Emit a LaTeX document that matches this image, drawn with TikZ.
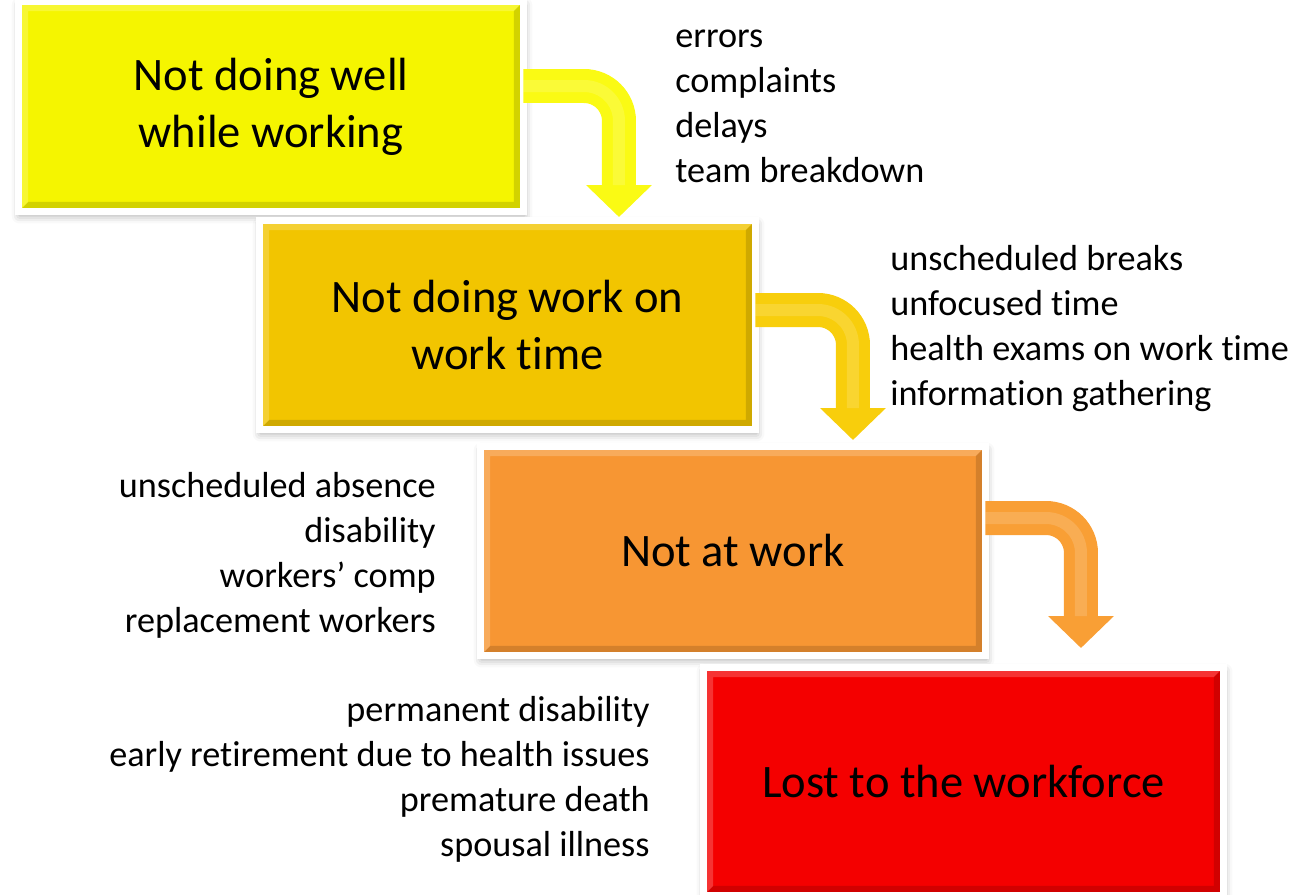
\documentclass[tikz,border=0pt]{standalone}
\usepackage{fontspec}
\setmainfont[Ligatures=NoCommon]{Carlito}
\usetikzlibrary{arrows.meta,shadows.blur}
\definecolor{stageone}{HTML}{F5F500}
\definecolor{stagetwo}{HTML}{F2C500}
\definecolor{stagethree}{HTML}{F79633}
\definecolor{stagefour}{HTML}{F40000}
\definecolor{arrowone}{HTML}{FAFA14}
\definecolor{arrowtwo}{HTML}{F8CE0C}
\definecolor{arrowthree}{HTML}{F99F35}
\begin{document}
\begin{tikzpicture}[x=.02cm, y=-.02cm]
        \tikzset{
  stage/.style={
    rectangle,
    draw=white,
    line width=.14cm,
    fill=#1,
    inner sep=0pt,
    outer sep=0pt,
    align=center,
    font=\fontsize{26.5}{32.4}\selectfont,
    blur shadow={shadow xshift=.02cm, shadow yshift=-.08cm, shadow blur radius=.16cm, shadow opacity=35},
    path picture={
      \fill[black, opacity=.14] ([shift={(.07cm,.07cm)}]path picture bounding box.south west)
        -- ([shift={(-.07cm,.07cm)}]path picture bounding box.south east)
        -- ([shift={(-.07cm,-.07cm)}]path picture bounding box.north east)
        -- ([shift={(-.19cm,-.19cm)}]path picture bounding box.north east)
        -- ([shift={(-.19cm,.19cm)}]path picture bounding box.south east)
        -- ([shift={(.19cm,.19cm)}]path picture bounding box.south west) -- cycle;
      \fill[white, opacity=.2] ([shift={(.07cm,.07cm)}]path picture bounding box.south west)
        -- ([shift={(.07cm,-.07cm)}]path picture bounding box.north west)
        -- ([shift={(-.07cm,-.07cm)}]path picture bounding box.north east)
        -- ([shift={(-.19cm,-.19cm)}]path picture bounding box.north east)
        -- ([shift={(.19cm,-.19cm)}]path picture bounding box.north west)
        -- ([shift={(.19cm,.19cm)}]path picture bounding box.south west) -- cycle;
    }
  },
  flowarrow/.style={
    draw=#1,
    line width=.68cm,
    rounded corners=.7cm,
    -{Triangle[width=1.28cm, length=.64cm]},
    postaction={draw=white, draw opacity=.15, line width=.24cm, -, shorten >=.64cm}
  },
  itemlist/.style={
    inner sep=0pt,
    font=\fontsize{20.6}{25.6}\selectfont
  }
}
\useasboundingbox (0,0) rectangle (1294,895);

\node [stage=stageone, minimum width=10.1cm, minimum height=4.2cm] (stage-one) at (271,106.5) {Not doing well\\while working};
\node [stage=stagetwo, minimum width=9.92cm, minimum height=4.18cm] (stage-two) at (507.5,325) {Not doing work on\\work time};
\node [stage=stagethree, minimum width=10.1cm, minimum height=4.18cm] (stage-three) at (733,551) {Not at work};
\node [stage=stagefour, minimum width=10.4cm, minimum height=4.56cm] (stage-four) at (963.5,781.5) {Lost to the workforce};

\foreach \from/\to/\ys/\xe/\ye/\col in {one/two/.41/2.23/.07/arrowone,
    two/three/.3/2.4/.13/arrowtwo, three/four/.66/2.35/.39/arrowthree}
  \draw [flowarrow=\col] ([yshift=\ys cm]stage-\from.east) -| ([xshift=\xe cm, yshift=\ye cm]stage-\to.north);

\node [itemlist, align=left, anchor=west] (list-one) at (675,106) {errors\\complaints\\delays\\team breakdown};
\node [itemlist, align=left, anchor=west] (list-two) at (890,329) {unscheduled breaks\\unfocused time\\health exams on work time\\information gathering};
\node [itemlist, align=right, anchor=east] (list-three) at (436,555) {unscheduled absence\\disability\\workers’ comp\\replacement workers};
\node [itemlist, align=right, anchor=east] (list-four) at (650,779) {permanent disability\\early retirement due to health issues\\premature death\\spousal illness};
      \end{tikzpicture}
\end{document}
